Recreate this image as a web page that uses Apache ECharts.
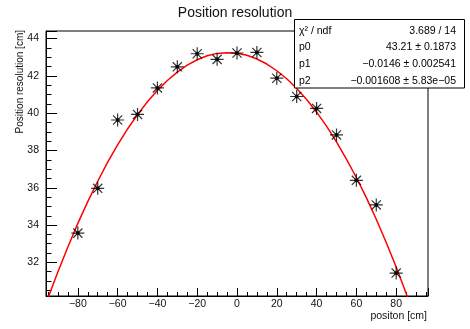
<!DOCTYPE html>
<html>
<head>
<meta charset="utf-8">
<script src="https://cdn.jsdelivr.net/npm/echarts@6/dist/echarts.min.js"></script>
<style>
  html, body { margin: 0; padding: 0; background: #fff; }
  #chart { width: 470px; height: 329px; }
</style>
</head>
<body>
<div id="chart"></div>
<script>
// ---- data ----
const chartTitle = 'Position resolution';
const xAxisTitle = 'positon [cm]';
const yAxisTitle = 'Position resolution [cm]';

const positions = [-80, -70, -60, -50, -40, -30, -20, -10, 0, 10, 20, 30, 40, 50, 60, 70, 80];
const resolution = [33.57, 35.97, 39.63, 39.93, 41.35, 42.48, 43.18, 42.88, 43.22, 43.25, 41.87, 40.89, 40.25, 38.83, 36.40, 35.08, 31.43];

// fitted curve (pol2) sampled along x
const fitX = [-96, -95, -90, -85, -80, -75, -70, -65, -60, -55, -50, -45, -40, -35, -30, -25, -20, -15, -10, -5, 0,
              5, 10, 15, 20, 25, 30, 35, 40, 45, 50, 55, 60, 65, 70, 75, 80, 85, 90];
const fitY = [29.79, 30.09, 31.50, 32.83, 34.09, 35.26, 36.35, 37.37, 38.30, 39.15, 39.92, 40.61, 41.22, 41.75, 42.20, 42.57, 42.86, 43.07, 43.20, 43.24, 43.21,
              43.10, 42.90, 42.63, 42.27, 41.84, 41.32, 40.73, 40.05, 39.30, 38.46, 37.54, 36.55, 35.47, 34.31, 33.07, 31.75, 30.35, 28.87];

const statsLabels = ['\u03C7\u00B2 / ndf', 'p0', 'p1', 'p2'];
const statsValues = ['3.689 / 14', '43.21 \u00B1 0.1873', '\u22120.0146 \u00B1 0.002541', '\u22120.001608 \u00B1 5.83e\u221205'];

const xRange = [-96, 96];
const yRange = [30.2, 44.4];
const xStep = 20;
const yStep = 2;

// ---- build chart ----
const FONT = '"Liberation Sans", Arial, Helvetica, sans-serif';
const points = positions.map((x, i) => [x, resolution[i]]);
const curve = fitX.map((x, i) => [x, fitY[i]]);
const minus = v => String(v).replace('-', '\u2212');

const statsRowY = [31, 47, 64, 81.5];
const statsGraphics = [{
  type: 'rect',
  shape: { x: 294.5, y: 19.5, width: 170, height: 68.5 },
  style: { fill: '#fff', stroke: '#000', lineWidth: 1 },
  z: 100
}];
statsLabels.forEach((t, i) => {
  statsGraphics.push({
    type: 'text', x: 299, y: statsRowY[i], z: 101,
    style: { text: t, font: '10.5px ' + FONT, fill: '#000', align: 'left', verticalAlign: 'middle' }
  });
  statsGraphics.push({
    type: 'text', x: 456, y: statsRowY[i], z: 101,
    style: { text: statsValues[i], font: '10.5px ' + FONT, fill: '#000', align: 'right', verticalAlign: 'middle' }
  });
});

const chart = echarts.init(document.getElementById('chart'), null, { renderer: 'canvas' });
chart.setOption({
  animation: false,
  backgroundColor: '#fff',
  title: {
    text: chartTitle,
    left: 'center',
    top: 1,
    textStyle: { fontFamily: FONT, fontSize: 14, fontWeight: 'normal', color: '#111' }
  },
  grid: {
    left: 46, right: 42, top: 31, bottom: 33,
    show: true, borderColor: '#000', borderWidth: 1, backgroundColor: 'transparent'
  },
  xAxis: {
    type: 'value',
    min: xRange[0], max: xRange[1],
    minInterval: xStep, maxInterval: xStep, splitNumber: 10,
    axisLine: { onZero: false, lineStyle: { color: '#000', width: 1 } },
    axisTick: { inside: true, length: 8, lineStyle: { color: '#000' } },
    minorTick: { show: true, splitNumber: 4, length: 4, lineStyle: { color: '#000' } },
    splitLine: { show: false },
    axisLabel: {
      showMinLabel: false, showMaxLabel: false,
      margin: 3, color: '#111', fontFamily: FONT, fontSize: 10.5,
      formatter: minus
    }
  },
  yAxis: {
    type: 'value',
    min: yRange[0], max: yRange[1],
    minInterval: yStep, maxInterval: yStep, splitNumber: 7,
    axisLine: { show: true, onZero: false, lineStyle: { color: '#000', width: 1 } },
    axisTick: { show: true, inside: true, length: 11, lineStyle: { color: '#000' } },
    minorTick: { show: true, splitNumber: 4, length: 5.5, lineStyle: { color: '#000' } },
    splitLine: { show: false },
    axisLabel: {
      showMinLabel: false, showMaxLabel: false,
      margin: 7, color: '#111', fontFamily: FONT, fontSize: 10.5,
      formatter: minus
    }
  },
  graphic: [
    {
      type: 'text', x: 427, y: 316,
      style: { text: xAxisTitle, font: '10.5px ' + FONT, fill: '#111', align: 'right', verticalAlign: 'middle' }
    },
    {
      type: 'text', x: 20, y: 30, rotation: Math.PI / 2,
      style: { text: yAxisTitle, font: '10px ' + FONT, fill: '#111', align: 'right', verticalAlign: 'middle' }
    }
  ].concat(statsGraphics),
  series: [
    {
      name: 'fit',
      type: 'line',
      data: curve,
      showSymbol: false,
      symbol: 'none',
      smooth: false,
      clip: true,
      lineStyle: { color: '#ff0000', width: 1.5 },
      z: 2
    },
    {
      name: 'data',
      type: 'scatter',
      data: points,
      symbol: 'path://M6,0L6,12M0,6L12,6M1.76,1.76L10.24,10.24M1.76,10.24L10.24,1.76',
      symbolSize: 13,
      itemStyle: { color: '#000', borderColor: '#000', borderWidth: 1.2 },
      z: 3
    },
    {
      name: 'centers',
      type: 'scatter',
      data: points,
      symbol: 'circle',
      symbolSize: 4,
      itemStyle: { color: '#000' },
      z: 4
    }
  ]
});
</script>
</body>
</html>
